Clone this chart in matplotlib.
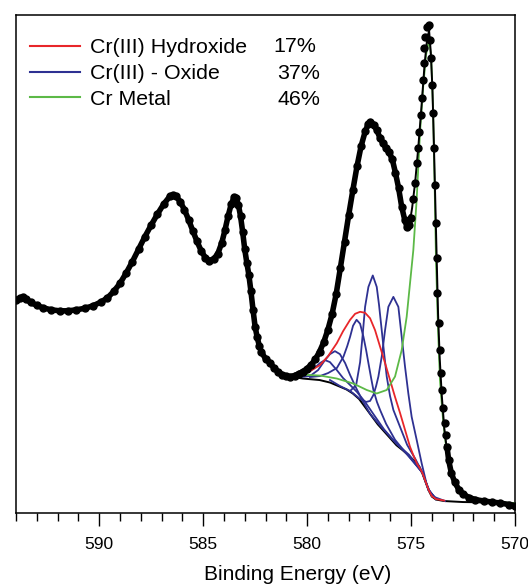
import matplotlib
matplotlib.use("Agg")
import matplotlib.pyplot as plt
from matplotlib.ticker import MultipleLocator
from matplotlib.lines import Line2D

plt.rcParams["font.family"] = ["Liberation Sans", "DejaVu Sans"]

# measured spectrum (binding energy in eV, intensity in a.u.)
energy = [594.0, 593.8, 593.65, 593.5, 593.3, 593.0, 592.7, 592.3, 591.9, 591.5,
          591.1, 590.7, 590.3, 589.9, 589.6, 589.3, 589.0, 588.7, 588.4, 588.1,
          587.8, 587.5, 587.2, 586.9, 586.6, 586.45, 586.3, 586.1, 585.9, 585.7,
          585.5, 585.3, 585.1, 584.9, 584.7, 584.5, 584.3, 584.1, 583.95, 583.8,
          583.65, 583.5, 583.4, 583.3, 583.2, 583.1, 583.0, 582.9, 582.8, 582.7,
          582.6, 582.5, 582.4, 582.3, 582.2, 582.0, 581.8, 581.6, 581.4, 581.2,
          581.0, 580.8, 580.6, 580.4, 580.2, 580.0, 579.8, 579.6, 579.4, 579.2,
          579.0, 578.8, 578.6, 578.4, 578.2, 578.0, 577.8, 577.6, 577.4, 577.2,
          577.05, 576.95, 576.8, 576.65, 576.5, 576.35, 576.2, 576.05, 575.9, 575.75,
          575.6, 575.45, 575.3, 575.2, 575.1, 575.0, 574.9, 574.81, 574.73, 574.65,
          574.6, 574.53, 574.49, 574.44, 574.39, 574.36, 574.31, 574.21, 574.13, 574.09,
          574.04, 573.97, 573.93, 573.89, 573.83, 573.8, 573.77, 573.73, 573.67, 573.62,
          573.57, 573.51, 573.46, 573.38, 573.33, 573.27, 573.19, 573.06, 572.9, 572.7,
          572.5, 572.2, 571.9, 571.5, 571.1, 570.7, 570.3, 570.0]
intensity = [42.8, 43.2, 43.4, 42.9, 42.3, 41.7, 41.2, 40.8, 40.6, 40.6,
             40.8, 41.1, 41.6, 42.4, 43.2, 44.5, 46.1, 48.2, 50.5, 53.0,
             55.5, 57.8, 60.0, 62.0, 63.6, 63.9, 63.6, 62.5, 60.9, 58.9,
             56.7, 54.6, 52.7, 51.3, 50.7, 51.0, 52.0, 54.3, 56.8, 59.6,
             62.0, 63.5, 63.2, 61.8, 59.6, 56.5, 53.0, 50.3, 47.8, 44.5,
             40.8, 37.4, 35.3, 33.6, 32.3, 31.0, 30.2, 29.2, 28.4, 27.8,
             27.5, 27.4, 27.6, 28.0, 28.4, 29.0, 29.8, 30.9, 32.4, 34.3,
             36.8, 39.9, 44.0, 49.2, 54.5, 59.8, 64.8, 69.6, 73.7, 76.7,
             78.2, 78.6, 78.0, 76.9, 75.4, 74.3, 73.3, 72.5, 71.0, 68.3,
             65.3, 61.5, 58.8, 57.5, 57.9, 59.3, 63.0, 66.3, 70.3, 73.3,
             76.5, 79.9, 83.3, 86.9, 90.4, 93.4, 95.6, 97.6, 97.9, 95.0,
             91.4, 85.9, 80.3, 73.3, 65.9, 58.2, 51.2, 44.2, 38.2, 32.7,
             28.1, 24.7, 21.1, 18.1, 15.7, 13.3, 10.6, 8.0, 6.2, 4.7,
             3.8, 3.1, 2.7, 2.4, 2.2, 2.0, 1.7, 1.5]

# fit envelope
fit_e = [581.8, 581.4, 581.0, 580.6, 580.2, 579.8, 579.4, 579.0, 578.6, 578.2,
         577.8, 577.4, 577.1, 576.95, 576.8, 576.6, 576.4, 576.2, 576.0, 575.8,
         575.6, 575.4, 575.25, 575.15, 575.05, 574.95, 574.8, 574.65, 574.5, 574.35,
         574.22, 574.13, 574.05, 573.97, 573.9, 573.83, 573.76, 573.7, 573.62, 573.52,
         573.4, 573.25, 573.1, 572.9, 572.6, 572.2, 571.5, 570.7, 570.0]
fit_v = [29.8, 28.3, 27.5, 27.6, 28.4, 29.8, 32.4, 36.8, 44.0, 54.5,
         64.8, 73.5, 77.6, 78.3, 77.6, 75.8, 74.0, 72.6, 71.2, 68.7,
         65.0, 60.6, 58.0, 57.6, 58.6, 61.2, 66.5, 73.5, 81.5, 90.0,
         95.5, 96.8, 92.5, 85.0, 74.0, 62.0, 50.0, 40.0, 31.0, 23.5,
         17.0, 11.8, 8.3, 5.5, 3.8, 2.9, 2.3, 2.0, 1.8]

# Shirley-type background
bg_e = [581.7, 581.3, 580.8, 580.2, 579.4, 578.9, 578.5, 578.1, 577.8, 577.5,
        577.2, 576.9, 576.6, 576.3, 576.0, 575.7, 575.4, 575.1, 574.8, 574.6,
        574.45, 574.3, 574.15, 574.0, 573.8, 573.4, 572.5, 571.0, 570.0]
bg_v = [29.4, 28.1, 27.4, 27.0, 26.7, 26.2, 25.5, 24.8, 24.0, 22.9,
        21.2, 19.5, 17.8, 16.4, 15.0, 13.6, 12.6, 11.5, 10.3, 9.3,
        7.9, 6.2, 4.5, 3.3, 2.7, 2.4, 2.2, 2.1, 2.0]

# Cr metal component
metal_e = [581.1, 580.34, 579.38, 578.57, 577.78, 577.13, 576.65, 576.17, 575.77, 575.45,
           575.21, 575.05, 574.89, 574.73, 574.57, 574.43, 574.28, 574.13, 574.03, 573.94,
           573.87, 573.80, 573.70, 573.61, 573.46, 573.27, 573.03, 572.74, 572.26, 571.20, 570.0]
metal_v = [27.7, 27.8, 27.6, 27.0, 26.0, 24.7, 24.0, 24.7, 27.4, 32.7,
           39.4, 46.1, 52.8, 62.9, 76.3, 84.9, 92.0, 95.0, 91.4, 80.9,
           66.9, 50.8, 36.7, 26.7, 18.7, 11.6, 7.0, 4.2, 2.8, 2.2, 2.0]

# Cr(III) hydroxide component
hydrox_e = [580.82, 580.34, 579.86, 579.38, 578.99, 578.57, 578.27, 577.93, 577.69, 577.45,
            577.21, 576.97, 576.73, 576.49, 576.25, 576.01, 575.77, 575.53, 575.29, 575.05,
            574.85, 574.7, 574.55, 574.45, 574.3, 574.15, 574.0, 573.8, 573.4]
hydrox_v = [27.4, 27.7, 28.5, 29.7, 31.5, 34.1, 36.5, 38.8, 40.0, 40.4,
            40.2, 39.1, 36.7, 33.4, 30.1, 26.7, 23.3, 20.1, 16.7, 13.3,
            11.2, 9.8, 8.8, 8.0, 6.3, 4.6, 3.4, 2.8, 2.5]

# Cr(III) oxide multiplet (five components)
ox1_e = [580.58, 580.10, 579.71, 579.38, 579.14, 578.90, 578.57, 578.27, 577.93, 577.60,
         577.21, 576.8, 576.3, 575.7, 575.1, 574.45, 574.15, 573.8]
ox1_v = [27.4, 27.9, 28.9, 30.1, 30.7, 30.3, 28.7, 27.1, 25.7, 24.3,
         22.3, 19.8, 16.8, 13.9, 11.7, 8.0, 4.6, 2.8]
ox2_e = [580.34, 579.86, 579.47, 579.14, 578.90, 578.66, 578.42, 578.17, 577.93, 577.64,
         577.35, 576.97, 576.5, 575.9, 575.2, 574.45, 574.15, 573.8]
ox2_v = [27.3, 27.5, 28.7, 30.7, 31.9, 32.5, 31.9, 30.1, 27.7, 25.1,
         22.7, 19.9, 17.6, 14.8, 11.9, 8.1, 4.6, 2.8]
ox3_e = [579.86, 579.38, 578.99, 578.57, 578.25, 578.07, 577.93, 577.79, 577.62, 577.45,
         577.29, 577.16, 577.05, 576.92, 576.81, 576.64, 576.49, 576.20, 575.77, 575.2,
         574.45, 574.15, 573.8]
ox3_v = [27.3, 27.5, 28.1, 29.1, 31.4, 33.5, 35.4, 37.6, 38.8, 38.0,
         35.4, 32.7, 30.1, 27.1, 24.7, 22.3, 20.7, 17.9, 14.7, 11.8,
         8.1, 4.6, 2.8]
ox4_e = [578.90, 578.42, 577.93, 577.64, 577.45, 577.32, 577.21, 577.05, 576.84, 576.65,
         576.54, 576.41, 576.30, 576.17, 576.01, 575.85, 575.53, 575.19, 574.8, 574.45,
         574.15, 573.8]
ox4_v = [26.7, 25.5, 24.5, 25.7, 30.3, 36.1, 41.4, 45.4, 47.7, 45.4,
         41.8, 36.7, 32.3, 27.4, 23.5, 20.7, 17.3, 13.7, 10.9, 8.1,
         4.6, 2.8]
ox5_e = [577.93, 577.45, 577.16, 576.97, 576.81, 576.68, 576.57, 576.41, 576.25, 576.09,
         575.85, 575.61, 575.45, 575.29, 575.13, 574.97, 574.73, 574.49, 574.25, 574.00, 573.36]
ox5_v = [24.5, 22.9, 22.3, 22.5, 23.7, 25.5, 27.4, 31.4, 36.7, 41.4,
         43.4, 41.4, 35.4, 29.4, 24.0, 19.3, 14.7, 10.0, 5.8, 3.4, 2.4]

labels = ["Cr(III) Hydroxide", "Cr(III) - Oxide", "Cr Metal"]
percents = ["17%", "37%", "46%"]
red, blue, green = "#e8262a", "#2e3192", "#5cb947"

fig = plt.figure(figsize=(5.28, 5.85), dpi=100)
ax = fig.add_axes([16 / 528, 1 - 513 / 585, 499 / 528, 498 / 585])

ax.plot(bg_e, bg_v, color="black", lw=1.4, zorder=2)
for e, v in [(ox1_e, ox1_v), (ox2_e, ox2_v), (ox3_e, ox3_v), (ox4_e, ox4_v), (ox5_e, ox5_v)]:
    ax.plot(e, v, color=blue, lw=1.3, zorder=3)
ax.plot(hydrox_e, hydrox_v, color=red, lw=1.3, zorder=4)
ax.plot(metal_e, metal_v, color=green, lw=1.3, zorder=4)
ax.plot(fit_e, fit_v, color="black", lw=1.4, zorder=5)

# dense data: thick trace where points pile up, single dots on the steep metal peak
left = [(e, v) for e, v in zip(energy, intensity) if e >= 574.95]
tail = [(e, v) for e, v in zip(energy, intensity) if e <= 573.3]
for part in (left, tail):
    ax.plot([p[0] for p in part], [p[1] for p in part], color="black", lw=4, zorder=6)
ax.plot(energy, intensity, ls="none", color="black", marker="o", ms=5, zorder=6)

ax.set_xlim(594, 570)
ax.set_ylim(0, 100)
ax.xaxis.set_major_locator(MultipleLocator(5))
ax.xaxis.set_minor_locator(MultipleLocator(1))
ax.tick_params(axis="x", which="major", direction="out", length=9.5, width=1, labelsize=12.5, pad=8)
ax.tick_params(axis="x", which="minor", direction="out", length=6, width=1)
ax.set_yticks([])
for s in ax.spines.values():
    s.set_linewidth(1.1)
ax.set_xlabel("Binding Energy (eV)", fontsize=15)
ax.xaxis.set_label_coords(0.565, -0.104)

handles = [Line2D([], [], color=c, lw=1.5) for c in (red, blue, green)]
ax.legend(handles, labels, loc="upper left", bbox_to_anchor=(0.028, 0.953), frameon=False,
          fontsize=15.4, handlelength=2.35, handletextpad=0.47, labelspacing=0.31, borderpad=0,
          borderaxespad=0)
pct_right = [316, 320, 320]
for i, p in enumerate(percents):
    ax.text((pct_right[i] - 16) / 499, 0.936 - i * 0.053, p, transform=ax.transAxes,
            ha="right", va="center", fontsize=15.4)

fig.savefig("out.png", dpi=100)
